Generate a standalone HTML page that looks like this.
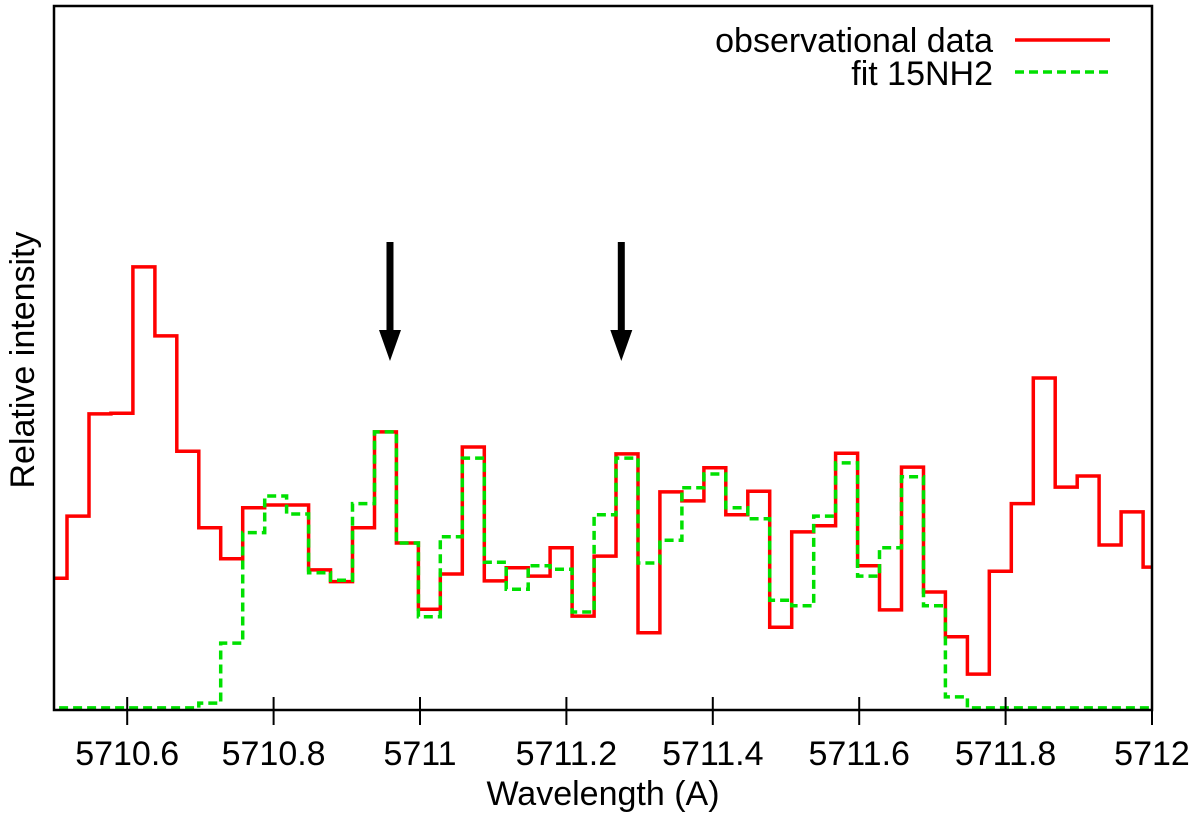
<!DOCTYPE html>
<html><head><meta charset="utf-8"><style>
html,body{margin:0;padding:0;background:#fff;}
svg{display:block;font-family:"Liberation Sans",sans-serif;}
</style></head><body>
<svg id="chart" width="1200" height="818" viewBox="0 0 1200 818">
<defs><clipPath id="plotclip"><rect x="54" y="6" width="1098" height="705"/></clipPath></defs>
<g id="series" clip-path="url(#plotclip)"></g>
<g id="axes"></g>
</svg>
<script>
const xTicks = [5710.6, 5710.8, 5711.0, 5711.2, 5711.4, 5711.6, 5711.8, 5712.0];
const xTickLabels = ["5710.6","5710.8","5711","5711.2","5711.4","5711.6","5711.8","5712"];
const binStart = 5710.4878;
const binWidth = 0.0300;
const observed = [19.1,28.1,42.9,43.0,64.2,54.2,37.5,26.4,21.9,29.3,29.7,29.7,20.3,18.6,26.4,40.3,24.2,14.6,19.7,38.1,18.7,20.6,19.4,23.5,13.6,22.3,37.1,11.2,31.6,30.3,35.1,28.3,31.7,12.0,25.8,26.7,37.2,20.9,14.5,35.2,17.1,10.6,5.2,20.1,29.9,48.1,32.3,33.9,23.9,28.7,20.7];
const fit = [0.3,0.3,0.3,0.3,0.3,0.3,0.3,1.0,9.7,25.7,31.0,28.4,19.9,18.8,29.9,40.3,24.2,13.5,25.1,36.5,21.4,17.5,20.9,20.4,14.2,28.3,36.5,21.3,24.6,32.2,34.2,29.3,27.7,15.9,15.1,28.1,35.8,19.4,23.5,33.8,15.1,1.9,0.3,0.3,0.3,0.3,0.3,0.3,0.3,0.3,0.3];
const arrowX = [5710.959, 5711.275];
const xMin = 5710.5, xMax = 5712.0, yMin = 0, yMax = 102;
const L = 54, R = 1152, T = 6, B = 710;
function sx(v){ return L + (v - xMin) / (xMax - xMin) * (R - L); }
function sy(v){ return B - (v - yMin) / (yMax - yMin) * (B - T); }
const NS = "http://www.w3.org/2000/svg";
function mk(tag, attrs, parent){ const e = document.createElementNS(NS, tag); for (const k in attrs) e.setAttribute(k, attrs[k]); parent.appendChild(e); return e; }
const series = document.getElementById('series');
const axes = document.getElementById('axes');
function stepPath(vals){
  let d = "";
  vals.forEach((v, i) => {
    const x0 = sx(binStart + i * binWidth), x1 = sx(binStart + (i + 1) * binWidth), y = sy(v);
    d += (i === 0 ? "M" : "L") + x0.toFixed(1) + " " + y.toFixed(1) + " L" + x1.toFixed(1) + " " + y.toFixed(1) + " ";
  });
  return d;
}
const redLine = mk('path', {d: stepPath(observed), fill: 'none', stroke: '#ff0000', 'stroke-width': 3.5}, series);


const greenLine = mk('path', {d: stepPath(fit), fill: 'none', stroke: '#00e000', 'stroke-width': 3.5, 'stroke-dasharray': '9 5'}, series);


// arrows
arrowX.forEach((a, i) => {
  const x = sx(a);
  const g = mk('g', {}, axes);
  
  
  mk('line', {x1: x, y1: 242, x2: x, y2: 335, stroke: '#000', 'stroke-width': 7}, g);
  mk('polygon', {points: (x-11)+",330 "+(x+11)+",330 "+x+",361", fill: '#000'}, g);
});
// frame
const frame = mk('rect', {x: L, y: T, width: R - L, height: B - T, fill: 'none', stroke: '#000', 'stroke-width': 2.5}, axes);


xTicks.forEach((t, i) => {
  const x = sx(t);
  const tk = mk('line', {x1: x, y1: 697, x2: x, y2: 725, stroke: '#000', 'stroke-width': 2}, axes);
  
  
  const lb = mk('text', {x: x, y: 765, 'text-anchor': 'middle', 'font-size': 34, fill: '#000'}, axes);
  lb.textContent = xTickLabels[i];
  
  
});
</script>
<svg width="0" height="0" style="position:absolute"></svg>
<script>
const ax = document.getElementById('axes');
const NS2 = "http://www.w3.org/2000/svg";
</script>
<div style="position:absolute;left:0;top:0;width:1200px;height:818px;pointer-events:none">
<svg width="1200" height="818" style="position:absolute;left:0;top:0" font-family="Liberation Sans, sans-serif">
<text x="603" y="805" text-anchor="middle" font-size="34">Wavelength (A)</text>
<text transform="translate(34,360) rotate(-90)" text-anchor="middle" font-size="34">Relative intensity</text>
<g>
<g>
<text x="993" y="52" text-anchor="end" font-size="34">observational data</text>
<line x1="1015" y1="40" x2="1110" y2="40" stroke="#ff0000" stroke-width="3.5"/>
</g>
<g>
<text x="993" y="85" text-anchor="end" font-size="34">fit 15NH2</text>
<line x1="1015" y1="72" x2="1110" y2="72" stroke="#00e000" stroke-width="3.5" stroke-dasharray="9 5"/>
</g>
</g>
</svg>
</div>
</body></html>
